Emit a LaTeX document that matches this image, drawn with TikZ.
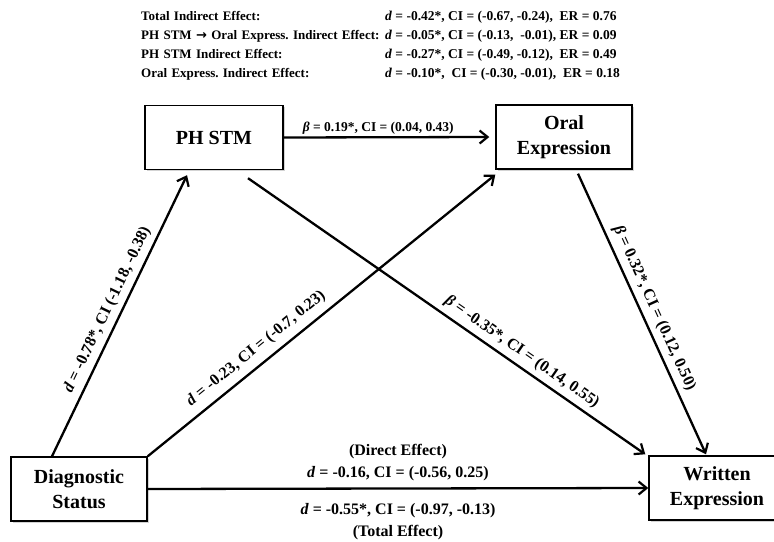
\documentclass[tikz,border=0pt]{standalone}
\usepackage{fontspec}
\setmainfont{Liberation Serif}
\newfontfamily\arrowfont{DejaVu Sans}
\usetikzlibrary{matrix,arrows.meta,shadows}
\frenchspacing

\begin{document}
\begin{tikzpicture}[x=1pt,y=1pt,
    box/.style={draw, line width=1.4pt, fill=white, minimum height=64pt, align=center,
      font=\fontsize{20}{25}\selectfont\bfseries,
      drop shadow={shadow xshift=1.5pt, shadow yshift=-1.5pt, opacity=0.35}},
    effect/.style={line width=2.3pt, -{Straight Barb[length=8pt,width=13pt,line width=2.2pt]}},
    lbl/.style={font=\fontsize{16}{22.5}\selectfont\bfseries, inner sep=2pt},
  ]
\useasboundingbox (0,0) rectangle (774,-541);

            \matrix (effects) [matrix of nodes, anchor=north west, inner sep=0pt, row sep=0pt,
                nodes={anchor=base west, inner sep=0pt, text height=11pt, text depth=8pt,
                  font=\fontsize{13}{15}\selectfont\bfseries},
                column 1/.style={nodes={text width=244pt}},
                column 2/.style={nodes={font=\fontsize{13.5}{15}\selectfont\bfseries}}] at (141,-9) {
                Total Indirect Effect: & \textit{d} = -0.42*, CI = (-0.67, -0.24), \ ER = 0.76 \\
                PH STM {\arrowfont→} Oral Express. Indirect Effect: & \textit{d} = -0.05*, CI = (-0.13, \ -0.01), ER = 0.09 \\
                PH STM Indirect Effect: & \textit{d} = -0.27*, CI = (-0.49, -0.12), \ ER = 0.49 \\
                Oral Express. Indirect Effect: & \textit{d} = -0.10*, \ CI = (-0.30, -0.01), \ ER = 0.18 \\
            };

            \node[box, minimum width=138pt] (phstm) at (214,-137.5) {PH STM};
            \node[box, minimum width=136pt] (oral) at (564,-137) {Oral\\Expression};
            \node[box, minimum width=136pt] (diag) at (79,-489) {Diagnostic\\Status};
            \node[box, minimum width=136pt] (written) at (717,-488) {Written\\Expression};

            \draw[effect] (phstm.east) -- node[lbl, above, pos=0.46, font=\fontsize{13.5}{15}\selectfont\bfseries] {\textit{β} = 0.19*, CI = (0.04, 0.43)} ([xshift=-6pt]oral.west);
            \draw[effect] ([xshift=-27pt]diag.north) -- node[lbl, above=3pt, sloped] {\textit{d} = -0.78*, CI (-1.18, -0.38)} ([xshift=-27pt,yshift=-5pt]phstm.south);
            \draw[effect] (diag.north east) -- node[lbl, above=5pt, sloped, pos=0.34] {\textit{d} = -0.23, CI = (-0.7, 0.23)} ([yshift=-5pt]oral.south west);
            \draw[effect] ([xshift=34pt,yshift=-8pt]phstm.south) -- node[lbl, above=3pt, sloped, pos=0.67] {\textit{β} = -0.35*, CI = (0.14, 0.55)} ([xshift=-3pt,yshift=1pt]written.north west);
            \draw[effect] ([xshift=14pt,yshift=-4pt]oral.south) -- node[lbl, above=3pt, sloped] {\textit{β} = 0.32*, CI = (0.12, 0.50)} ([xshift=-11pt,yshift=1pt]written.north);
            \draw[effect] (diag.east) -- node[lbl, above=4pt, align=center] {(Direct Effect)\\\textit{d} = -0.16, CI = (-0.56, 0.25)}
                node[lbl, below=11.5pt, align=center] {\textit{d} = -0.55*, CI = (-0.97, -0.13)\\(Total Effect)} (written.west);
        \end{tikzpicture}
\end{document}
